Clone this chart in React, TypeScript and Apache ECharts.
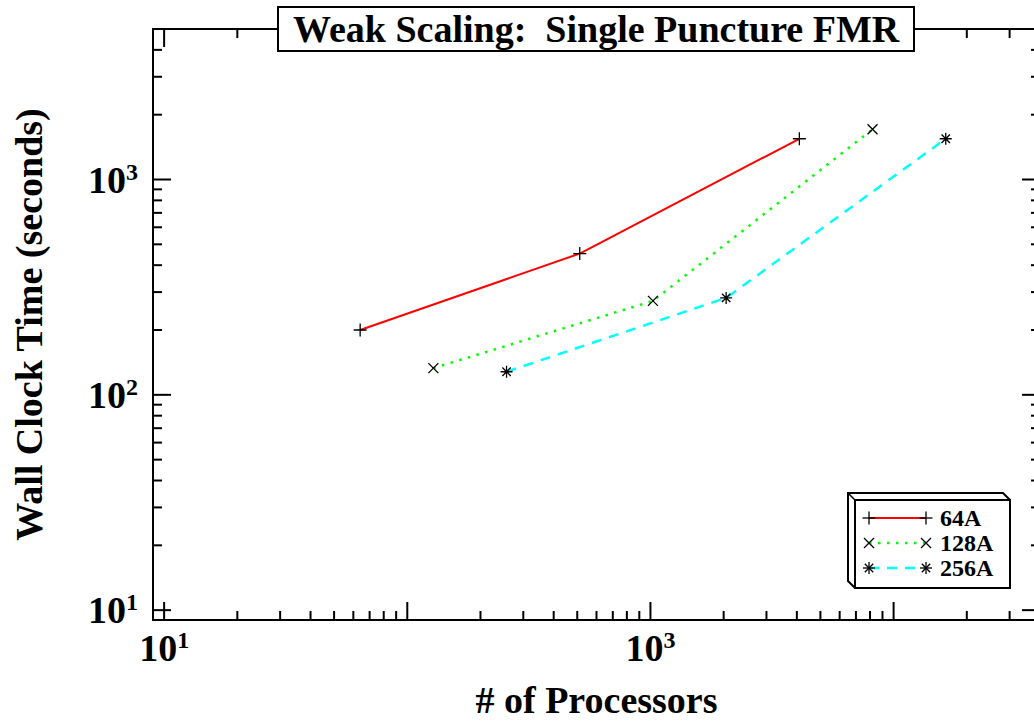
import React, { useEffect, useRef } from 'react';
import * as echarts from 'echarts';

// ---- data ----
const SERIES_NAMES = ['64A', '128A', '256A'];
const PROCS_64A = [64, 512, 4096];
const TIME_64A = [200, 453, 1546];
const PROCS_128A = [128, 1024, 8192];
const TIME_128A = [133, 273, 1711];
const PROCS_256A = [256, 2048, 16384];
const TIME_256A = [128, 282, 1546];

const X_MIN = 9;
const X_MAX = 40000;
const Y_MIN = 9;
const Y_MAX = 5000;
const X_LABEL_VALUES = [10, 1000];
const Y_LABEL_VALUES = [10, 100, 1000];

const TITLE = 'Weak Scaling:  Single Puncture FMR';
const X_TITLE = '# of Processors';
const Y_TITLE = 'Wall Clock Time (seconds)';

const SERIF = '"Liberation Serif", "Times New Roman", "DejaVu Serif", serif';

const SYM_PLUS = 'path://M0,6 L12,6 M6,0 L6,12';
const SYM_X = 'path://M0,0 L10,10 M0,10 L10,0';
const SYM_STAR = 'path://M6,0 L6,12 M0,6 L12,6 M1.8,1.8 L10.2,10.2 M1.8,10.2 L10.2,1.8';

function logTickValues(min: number, max: number) {
  const out: number[][] = [];
  for (let e = 0; e <= 5; e++) {
    for (let m = 1; m <= 9; m++) {
      const v = m * Math.pow(10, e);
      if (v > min && v < max) out.push([v, m === 1 ? 1 : 0]);
    }
  }
  return out;
}

function powLabel(v: number, list: number[]) {
  const e = Math.round(Math.log10(v));
  const p = Math.pow(10, e);
  if (Math.abs(v - p) < 1e-6 * p && list.indexOf(p) >= 0) return `{b|10}{s|${e}}`;
  return '';
}

const labelRich = {
  b: { fontFamily: SERIF, fontSize: 38, fontWeight: 'bold', color: '#000', lineHeight: 40 },
  s: { fontFamily: SERIF, fontSize: 24, fontWeight: 'bold', color: '#000', lineHeight: 12, verticalAlign: 'top' },
};

function markerLines(kind: string, cx: number, cy: number) {
  const st = { stroke: '#000', lineWidth: 1.3 };
  const L = (x1: number, y1: number, x2: number, y2: number) => ({
    type: 'line', shape: { x1, y1, x2, y2 }, style: st, z: 101,
  });
  if (kind === 'plus') return [L(cx - 6.5, cy, cx + 6.5, cy), L(cx, cy - 6.5, cx, cy + 6.5)];
  if (kind === 'x') return [L(cx - 5, cy - 5, cx + 5, cy + 5), L(cx - 5, cy + 5, cx + 5, cy - 5)];
  const d = 4.2;
  return [
    L(cx - 6, cy, cx + 6, cy), L(cx, cy - 6, cx, cy + 6),
    L(cx - d, cy - d, cx + d, cy + d), L(cx - d, cy + d, cx + d, cy - d),
  ];
}

export default function App() {
  const ref = useRef<HTMLDivElement>(null);

  useEffect(() => {
    document.body.style.margin = '0';
    const chart = echarts.init(ref.current!, null, { renderer: 'svg' });

    const xTicks = logTickValues(X_MIN, X_MAX);
    const yTicks = logTickValues(Y_MIN, Y_MAX);
    const tickStyle = { stroke: '#000', lineWidth: 2 };

    const lineColors = ['#ff0000', '#00ff00', '#00ffff'];
    const lineTypes: any[] = ['solid', [2.5, 6.5], [10, 8]];
    const symbols = [SYM_PLUS, SYM_X, SYM_STAR];
    const symbolSizes = [13, 10, 12];
    const markerKinds = ['plus', 'x', 'star'];
    const xs = [PROCS_64A, PROCS_128A, PROCS_256A];
    const ys = [TIME_64A, TIME_128A, TIME_256A];

    const dataSeries = SERIES_NAMES.map((name, k) => ({
      name,
      type: 'line',
      data: xs[k].map((x, i) => [x, ys[k][i]]),
      symbol: symbols[k],
      symbolSize: symbolSizes[k],
      showSymbol: true,
      lineStyle: { color: lineColors[k], width: k === 0 ? 2 : 2.5, type: lineTypes[k], cap: 'butt' },
      itemStyle: { color: '#000', borderColor: '#000', borderWidth: 1.3 },
      emphasis: { disabled: true },
      silent: true,
      z: 4,
    }));

    // legend drawn as graphic
    const LX0 = 855, LY0 = 500, LX1 = 1010, LY1 = 588, DEP = 7;
    const rowsY = [518, 543, 568];
    const legendEls: any[] = [
      {
        type: 'polygon',
        shape: { points: [[LX0 - DEP, LY0 - DEP], [LX1 - DEP, LY0 - DEP], [LX1, LY0], [LX1, LY1], [LX0, LY1], [LX0 - DEP, LY1 - DEP]] },
        style: { fill: '#fff', stroke: '#000', lineWidth: 2 },
        z: 100,
      },
      { type: 'rect', shape: { x: LX0, y: LY0, width: LX1 - LX0, height: LY1 - LY0 }, style: { fill: '#fff', stroke: '#000', lineWidth: 2 }, z: 100 },
      { type: 'line', shape: { x1: LX0 - DEP, y1: LY0 - DEP, x2: LX0, y2: LY0 }, style: { stroke: '#000', lineWidth: 1.5 }, z: 100 },
    ];
    SERIES_NAMES.forEach((name, k) => {
      const y = rowsY[k];
      legendEls.push({
        type: 'line',
        shape: { x1: 869, y1: y, x2: 926, y2: y },
        style: { stroke: lineColors[k], lineWidth: k === 0 ? 2 : 2.5, lineDash: k === 0 ? null : lineTypes[k] },
        z: 101,
      });
      legendEls.push(...markerLines(markerKinds[k], 869, y));
      legendEls.push(...markerLines(markerKinds[k], 926, y));
      legendEls.push({
        type: 'text',
        x: 940,
        y,
        style: { text: name, fontFamily: SERIF, fontSize: 24, fontWeight: 'bold', fill: '#000', verticalAlign: 'middle', align: 'left' },
        z: 101,
      });
    });

    const option: any = {
      animation: false,
      backgroundColor: '#fff',
      title: {
        text: TITLE,
        left: 278,
        top: 7,
        padding: [3, 15],
        borderColor: '#000',
        borderWidth: 2,
        backgroundColor: '#fff',
        textStyle: { fontFamily: SERIF, fontSize: 38, fontWeight: 'bold', color: '#000' },
        z: 10,
      },
      grid: {
        left: 153, top: 29, width: 887, height: 591,
        outerBoundsMode: 'none',
        containLabel: false,
        show: true, borderColor: '#000', borderWidth: 2, backgroundColor: 'transparent',
      },
      xAxis: {
        type: 'log', logBase: 10, min: X_MIN, max: X_MAX,
        axisLine: { show: false }, axisTick: { show: false }, splitLine: { show: false },
        axisLabel: {
          margin: 8, showMinLabel: false, showMaxLabel: false,
          formatter: (v: number) => powLabel(v, X_LABEL_VALUES), rich: labelRich,
        },
        name: X_TITLE, nameLocation: 'middle', nameGap: 65,
        nameTextStyle: { fontFamily: SERIF, fontSize: 38, fontWeight: 'bold', color: '#000', lineHeight: 30 },
      },
      yAxis: {
        type: 'log', logBase: 10, min: Y_MIN, max: Y_MAX,
        axisLine: { show: false }, axisTick: { show: false }, splitLine: { show: false },
        axisLabel: {
          margin: 15, showMinLabel: false, showMaxLabel: false,
          formatter: (v: number) => powLabel(v, Y_LABEL_VALUES), rich: labelRich,
        },
        name: Y_TITLE, nameLocation: 'middle', nameGap: 105,
        nameTextStyle: { fontFamily: SERIF, fontSize: 38, fontWeight: 'bold', color: '#000' },
      },
      graphic: legendEls,
      series: [
        {
          type: 'custom', clip: false, silent: true, z: 3,
          data: xTicks.map(([v, major]) => [v, Y_MIN, major]),
          encode: { x: 0, y: 1 },
          renderItem: (_p: any, api: any) => {
            const v = api.value(0);
            const len = api.value(2) ? 18 : 9;
            const b = api.coord([v, Y_MIN]);
            const t = api.coord([v, Y_MAX]);
            return {
              type: 'group',
              children: [
                { type: 'line', shape: { x1: b[0], y1: b[1], x2: b[0], y2: b[1] - len }, style: tickStyle },
                { type: 'line', shape: { x1: t[0], y1: t[1], x2: t[0], y2: t[1] + len }, style: tickStyle },
              ],
            };
          },
        },
        {
          type: 'custom', clip: false, silent: true, z: 3,
          data: yTicks.map(([v, major]) => [X_MIN, v, major]),
          encode: { x: 0, y: 1 },
          renderItem: (_p: any, api: any) => {
            const v = api.value(1);
            const len = api.value(2) ? 18 : 9;
            const l = api.coord([X_MIN, v]);
            const r = api.coord([X_MAX, v]);
            return {
              type: 'group',
              children: [
                { type: 'line', shape: { x1: l[0], y1: l[1], x2: l[0] + len, y2: l[1] }, style: tickStyle },
                { type: 'line', shape: { x1: r[0], y1: r[1], x2: r[0] - len, y2: r[1] }, style: tickStyle },
              ],
            };
          },
        },
        ...dataSeries,
      ],
    };

    chart.setOption(option);
    return () => chart.dispose();
  }, []);

  return <div ref={ref} style={{ width: 1034, height: 724 }} />;
}
